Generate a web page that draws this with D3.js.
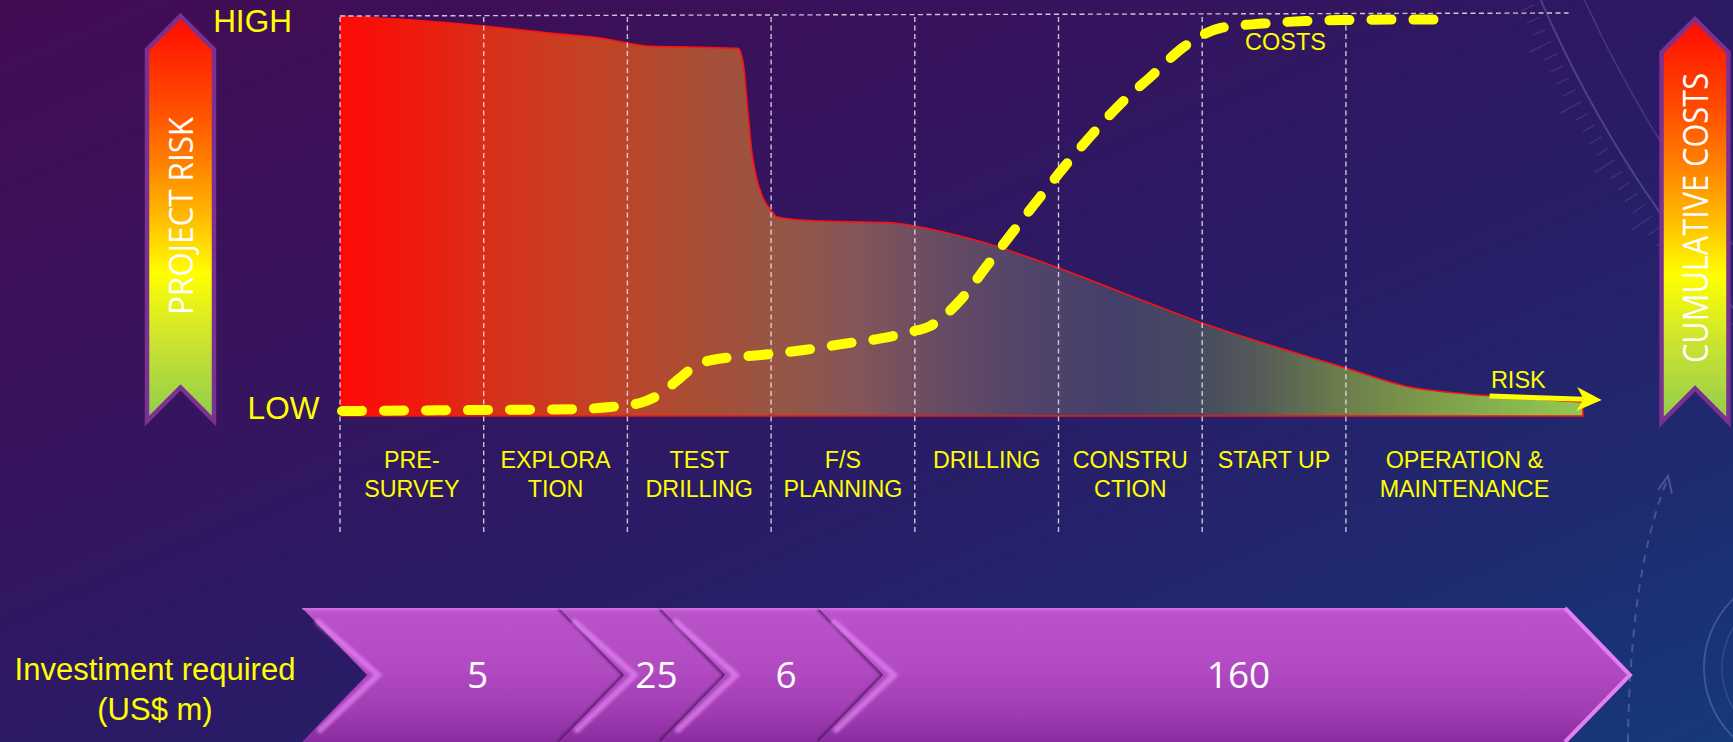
<!DOCTYPE html>
<html>
<head>
<meta charset="utf-8">
<script src="https://cdn.jsdelivr.net/npm/d3@7"></script>
<style>
  html, body { margin: 0; padding: 0; background: #2a1a60; overflow: hidden; }
  svg { display: block; }
</style>
</head>
<body>
<svg id="chart" width="1733" height="742"></svg>
<script>
// ---- Project phases (timeline measured in phase units) ----
const stageNames = ["PRE-\nSURVEY", "EXPLORA\nTION", "TEST\nDRILLING", "F/S\nPLANNING",
                    "DRILLING", "CONSTRU\nCTION", "START UP", "OPERATION &\nMAINTENANCE"];
const stageEdges = [0, 1, 2, 3, 4, 5, 6, 7, 8.65];

// ---- Project risk (0 = low, 100 = high) ----
const riskPhase = [0, 0.5, 1.0, 1.5, 1.81, 2.0, 2.13, 2.5, 2.77, 2.806, 2.839, 2.867, 2.902, 2.944,
                   2.999, 3.04, 3.2, 3.5, 3.83, 4.0, 4.2, 4.47, 5.0, 5.54, 6.0, 7.0, 7.44, 7.84, 8.23, 8.65];
const riskLevel = [100, 99.0, 97.5, 95.6, 94.5, 93.25, 92.5, 92.2, 91.9, 88.2, 75.75, 65.75, 59, 54.5,
                   51.5, 49.8, 49.0, 48.6, 48.3, 47.5, 46.0, 43.5, 37.0, 29.5, 23.25, 12.0, 7.25, 5.5, 4.5, 3.5];

// ---- Cumulative costs (0 = low, 100 = high) ----
const costPhase = [0.014, 0.974, 1.67, 1.879, 2.088, 2.227, 2.366, 2.47, 2.589, 2.93, 3.229, 3.514, 3.765,
                   3.967, 4.102, 4.318, 4.506, 4.68, 4.861, 5.045, 5.23, 5.431, 5.644, 5.877, 6.128, 6.423,
                   6.715, 7.007, 7.307, 7.71];
const costLevel = [1.25, 1.5, 1.75, 2.25, 3.25, 5.5, 9.5, 12.5, 14.0, 15.25, 16.5, 18.1, 19.4,
                   21.0, 22.4, 29.0, 37.75, 45.9, 54.25, 62.5, 70.25, 78.0, 84.9, 92.4, 97.0, 98.1,
                   98.75, 99.0, 99.1, 99.1];

// ---- Investment required (US$ m) and where each block ends on the timeline ----
const investValues = [5, 25, 6, 160];
const investStart = -0.264;
const investEnds = [1.976, 2.679, 3.779, 8.977];

// ---- Scales ----
const x = d3.scaleLinear().domain([0, 8.65]).range([340, 1583]);
const y = d3.scaleLinear().domain([0, 100]).range([416, 16]);

const svg = d3.select("#chart");
const defs = svg.append("defs");

function linGrad(id, stops, attrs) {
  const g = defs.append("linearGradient").attr("id", id);
  Object.entries(attrs).forEach(([k, v]) => g.attr(k, v));
  stops.forEach(([o, c, op]) => g.append("stop").attr("offset", o).attr("stop-color", c)
    .attr("stop-opacity", op == null ? 1 : op));
  return g;
}
defs.append("filter").attr("id", "soft").attr("x", "-20%").attr("y", "-20%")
  .attr("width", "140%").attr("height", "140%")
  .append("feGaussianBlur").attr("stdDeviation", 1.6);

// background
linGrad("bg", [[0, "#430c53"], [0.3, "#37135c"], [0.55, "#2a1b66"], [0.8, "#1f2a70"], [1, "#15397b"]],
        { x1: 0, y1: 0, x2: 1, y2: 1 });
svg.append("rect").attr("width", 1733).attr("height", 742).attr("fill", "url(#bg)");

// faint dial decoration, upper right
const deco = svg.append("g").attr("fill", "none").attr("stroke", "#c8c8ff");
deco.append("circle").attr("cx", 2672).attr("cy", -493).attr("r", 1234)
  .attr("stroke-opacity", 0.22).attr("stroke-width", 2);
deco.append("circle").attr("cx", 2672).attr("cy", -493).attr("r", 1194)
  .attr("stroke-opacity", 0.16).attr("stroke-width", 1.5);
d3.range(139, 161, 0.62).forEach((deg, i) => {
  const a = deg * Math.PI / 180, r0 = 1242, r1 = i % 5 === 0 ? 1266 : 1256;
  deco.append("line")
    .attr("x1", 2672 + r0 * Math.cos(a)).attr("y1", -493 + r0 * Math.sin(a))
    .attr("x2", 2672 + r1 * Math.cos(a)).attr("y2", -493 + r1 * Math.sin(a))
    .attr("stroke-opacity", 0.12).attr("stroke-width", 1.5);
});
// faint rings, lower right
deco.append("circle").attr("cx", 1800).attr("cy", 668).attr("r", 96)
  .attr("stroke-opacity", 0.22).attr("stroke-width", 2);
deco.append("circle").attr("cx", 1800).attr("cy", 668).attr("r", 78)
  .attr("stroke-opacity", 0.14).attr("stroke-width", 1.5);
deco.append("path").attr("d", "M1628,742 Q1630,570 1668,478")
  .attr("stroke-opacity", 0.25).attr("stroke-width", 2).attr("stroke-dasharray", "8 7");
deco.append("path").attr("d", "M1658,490 L1668,476 L1672,494")
  .attr("stroke-opacity", 0.25).attr("stroke-width", 2);

// ---- Risk area ----
linGrad("riskFill", [
  [0, "#ff0a06"], [0.06, "#ee1a0c"], [0.12, "#d8301a"], [0.21, "#c24426"], [0.29, "#a84e36"],
  [0.36, "#945646"], [0.42, "#84545a"], [0.48, "#684c62"], [0.55, "#52446a"], [0.62, "#443f6a"],
  [0.69, "#464a60"], [0.74, "#555b58"], [0.80, "#6a7a4c"], [0.88, "#7e9c4a"], [0.95, "#8ab84e"],
  [1, "#92c852"]
], { gradientUnits: "userSpaceOnUse", x1: x(0), y1: 0, x2: x(8.65), y2: 0 });

const riskData = riskPhase.map((p, i) => [p, riskLevel[i]]);
const area = d3.area().x(d => x(d[0])).y0(y(0)).y1(d => y(d[1])).curve(d3.curveMonotoneX);
svg.append("path").datum(riskData).attr("d", area).attr("fill", "url(#riskFill)");

const topLine = d3.line().x(d => x(d[0])).y(d => y(d[1])).curve(d3.curveMonotoneX);
const last = riskData[riskData.length - 1];
svg.append("path")
  .attr("d", topLine(riskData) + `L${x(last[0])},${y(0)}L${x(0)},${y(0)}`)
  .attr("fill", "none").attr("stroke", "#ff1010").attr("stroke-width", 1.6);

// ---- Phase grid ----
const grid = svg.append("g").attr("stroke", "#e6e2f2").attr("stroke-opacity", 0.85)
  .attr("stroke-width", 1.4).attr("stroke-dasharray", "5 3.5");
stageEdges.slice(0, 8).forEach(e => {
  grid.append("line").attr("x1", x(e)).attr("x2", x(e)).attr("y1", y(100) + 1).attr("y2", 532);
});
grid.append("line").attr("x1", x(0)).attr("x2", x(8.55)).attr("y1", y(100)).attr("y2", y(100.75));

// ---- Cumulative cost curve ----
const costData = costPhase.map((p, i) => [p, costLevel[i]]);
svg.append("path").datum(costData)
  .attr("d", d3.line().x(d => x(d[0])).y(d => y(d[1])).curve(d3.curveMonotoneX))
  .attr("fill", "none").attr("stroke", "#ffff00").attr("stroke-width", 10)
  .attr("stroke-linecap", "round").attr("stroke-dasharray", "20 22");

// ---- Risk direction arrow ----
{
  const x0 = x(8.0), y0 = y(5.0), x1 = x(8.78), y1 = y(4.0);
  const len = Math.hypot(x1 - x0, y1 - y0), ux = (x1 - x0) / len, uy = (y1 - y0) / len;
  const px = -uy, py = ux, L = 25, Wd = 12, N = 7;
  svg.append("line").attr("x1", x0).attr("y1", y0)
    .attr("x2", x1 - (L - N) * ux).attr("y2", y1 - (L - N) * uy)
    .attr("stroke", "#ffff00").attr("stroke-width", 5);
  svg.append("path")
    .attr("d", `M${x1},${y1}L${x1 - L * ux + Wd * px},${y1 - L * uy + Wd * py}` +
               `L${x1 - (L - N) * ux},${y1 - (L - N) * uy}` +
               `L${x1 - L * ux - Wd * px},${y1 - L * uy - Wd * py}Z`)
    .attr("fill", "#ffff00");
}

const narrowFont = "'Liberation Sans', Arial, sans-serif";
const yellow = "#ffff00";

svg.append("text").attr("x", x(8.2)).attr("y", y(7)).attr("text-anchor", "middle")
  .attr("font-family", narrowFont).attr("font-size", 23.5).attr("fill", yellow).text("RISK");
svg.append("text").attr("x", x(6.58)).attr("y", y(91.5)).attr("text-anchor", "middle")
  .attr("font-family", narrowFont).attr("font-size", 23.5).attr("fill", yellow).text("COSTS");

// HIGH / LOW markers
svg.append("text").attr("x", 252.5).attr("y", y(100) + 16).attr("text-anchor", "middle")
  .attr("font-family", narrowFont).attr("font-size", 31.5).attr("fill", yellow).text("HIGH");
svg.append("text").attr("x", 283.5).attr("y", y(0) + 3).attr("text-anchor", "middle")
  .attr("font-family", narrowFont).attr("font-size", 31.5).attr("fill", yellow).text("LOW");

// ---- Phase labels ----
stageNames.forEach((name, i) => {
  const cx = x((stageEdges[i] + stageEdges[i + 1]) / 2);
  const t = svg.append("text").attr("text-anchor", "middle").attr("font-family", narrowFont)
    .attr("font-size", 23.3).attr("fill", yellow);
  name.split("\n").forEach((line, j) => {
    t.append("tspan").attr("x", cx).attr("y", 468 + j * 29).text(line);
  });
});

// ---- Side scale arrows ----
linGrad("scaleFill", [
  [0, "#ff0a00"], [0.21, "#ff4800"], [0.36, "#ff8000"], [0.5, "#ffbc00"],
  [0.635, "#ffff00"], [0.8, "#cce430"], [1, "#8fcc4e"]
], { x1: 0, y1: 0, x2: 0, y2: 1 });

function scaleArrow(cx, top, bottom, half, label, fontSize, textLen, textBaseX, textCy) {
  const shoulder = top + half, notch = bottom - half;
  svg.append("path")
    .attr("d", `M${cx},${top}L${cx + half},${shoulder}L${cx + half},${bottom}L${cx},${notch}` +
               `L${cx - half},${bottom}L${cx - half},${shoulder}Z`)
    .attr("fill", "url(#scaleFill)").attr("stroke", "#7a3192").attr("stroke-width", 4.5)
    .attr("stroke-linejoin", "miter");
  svg.append("text")
    .attr("transform", `translate(${textBaseX},${textCy}) rotate(-90)`)
    .attr("text-anchor", "middle").attr("font-family", "'Open Sans', 'Noto Sans', sans-serif")
    .attr("font-size", fontSize).attr("fill", "#ffffff")
    .attr("textLength", textLen).attr("lengthAdjust", "spacingAndGlyphs").text(label);
}
scaleArrow(180.5, 16, 421, 33.5, "PROJECT RISK", 32, 198, 193, 216);
scaleArrow(1695, 19, 422, 33.5, "CUMULATIVE COSTS", 34.5, 290, 1708, 218);

// ---- Investment band ----
linGrad("chev", [[0, "#c75fd6"], [0.05, "#ba52ca"], [0.45, "#b24ac2"], [0.78, "#a03cb3"], [1, "#8a2c9f"]],
        { x1: 0, y1: 0, x2: 0, y2: 1 });

const bandTop = 608, bandBot = 742, bandMid = (bandTop + bandBot) / 2, depth = 65;
const band = svg.append("g");
investValues.forEach((v, i) => {
  const tip = x(investEnds[i]);
  const left = i === 0 ? x(investStart) : x(investEnds[i - 1]) - depth;
  const notch = left + depth, right = tip - depth;
  band.append("path")
    .attr("d", `M${left},${bandTop}L${right},${bandTop}L${tip},${bandMid}L${right},${bandBot}` +
               `L${left},${bandBot}L${notch},${bandMid}Z`)
    .attr("fill", "url(#chev)");
  // soft bevel inside the notch
  band.append("path")
    .attr("d", `M${left + 16},${bandTop + 14}L${notch + 11},${bandMid}L${left + 18},${bandBot - 12}`)
    .attr("fill", "none").attr("stroke", "#e585f4").attr("stroke-opacity", 0.7)
    .attr("stroke-width", 6).attr("stroke-linecap", "round").attr("filter", "url(#soft)");
  // shaded leading edge
  const lastOne = i === investValues.length - 1;
  band.append("path")
    .attr("d", `M${right},${bandTop}L${tip},${bandMid}L${right},${bandBot}`)
    .attr("fill", "none")
    .attr("stroke", lastOne ? "#e47ef4" : "#40184f")
    .attr("stroke-width", lastOne ? 4 : 3)
    .attr("filter", lastOne ? null : "url(#soft)");
  band.append("text")
    .attr("x", (notch + tip) / 2 - 18).attr("y", 688).attr("text-anchor", "middle")
    .attr("font-family", "'Open Sans', 'Noto Sans', sans-serif").attr("font-size", 37)
    .attr("fill", "#ffffff").text(v);
});
band.append("line").attr("x1", x(investStart)).attr("x2", x(investEnds[3]) - depth)
  .attr("y1", bandTop + 1).attr("y2", bandTop + 1)
  .attr("stroke", "#d678e4").attr("stroke-opacity", 0.6).attr("stroke-width", 2);

const inv = svg.append("text").attr("text-anchor", "middle").attr("font-family", narrowFont)
  .attr("font-size", 31).attr("fill", yellow);
inv.append("tspan").attr("x", 155).attr("y", 680).text("Investiment required");
inv.append("tspan").attr("x", 155).attr("y", 720).text("(US$ m)");
</script>
</body>
</html>
